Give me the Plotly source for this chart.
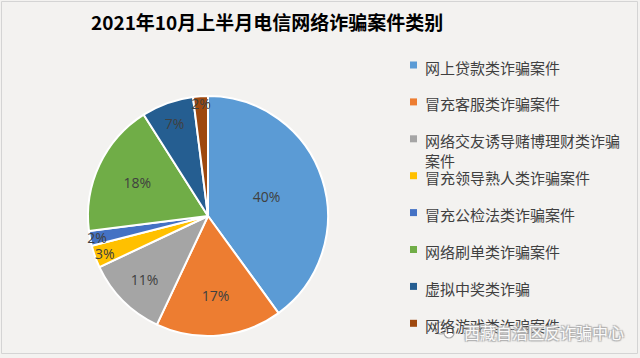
import plotly.graph_objects as go

# ---- data ----
categories = [
    "网上贷款类诈骗案件",
    "冒充客服类诈骗案件",
    "网络交友诱导赌博理财类诈骗案件",
    "冒充领导熟人类诈骗案件",
    "冒充公检法类诈骗案件",
    "网络刷单类诈骗案件",
    "虚拟中奖类诈骗",
    "网络游戏类诈骗案件",
]
legend_text = [
    "网上贷款类诈骗案件",
    "冒充客服类诈骗案件",
    "网络交友诱导赌博理财类诈骗<br>案件",
    "冒充领导熟人类诈骗案件",
    "冒充公检法类诈骗案件",
    "网络刷单类诈骗案件",
    "虚拟中奖类诈骗",
    "网络游戏类诈骗案件",
]
shares = [40, 17, 11, 3, 2, 18, 7, 2]
colors = ["#5B9BD5", "#ED7D31", "#A5A5A5", "#FFC000",
          "#4472C4", "#70AD47", "#255E91", "#9E480E"]
title_text = "2021年10月上半月电信网络诈骗案件类别"
watermark = "西藏自治区反诈骗中心"

W, H = 640, 358
CJK = "Noto Sans CJK SC"

fig = go.Figure()
fig.add_trace(go.Pie(
    labels=categories,
    values=shares,
    sort=False,
    direction="clockwise",
    rotation=0,
    marker=dict(colors=colors, line=dict(color="white", width=2)),
    texttemplate="%{value}%",
    textposition="inside",
    insidetextorientation="horizontal",
    textfont=dict(color="#404040", size=14, family="Open Sans"),
    showlegend=False,
    hoverinfo="label+percent",
    domain=dict(x=[88 / W, 328 / W], y=[(H - 216 - 120) / H, (H - 216 + 120) / H]),
))

shapes = []
annotations = []

# border
shapes.append(dict(type="rect", xref="paper", yref="paper",
                   x0=1.5 / W, x1=637.5 / W, y0=1 - 353.5 / H, y1=1 - 1.5 / H,
                   line=dict(color="#d4d4d4", width=1), fillcolor="rgba(0,0,0,0)",
                   layer="below"))

# manual legend
row0, step = 65, 36.9
for i, (txt, col) in enumerate(zip(legend_text, colors)):
    yc = row0 + i * step
    shapes.append(dict(type="rect", xref="paper", yref="paper",
                       x0=410 / W, x1=417 / W, y0=1 - (yc + 3.5) / H, y1=1 - (yc - 3.5) / H,
                       line=dict(width=0), fillcolor=col))
    annotations.append(dict(
        xref="paper", yref="paper", x=423 / W, y=1 - (yc - 10.5) / H,
        xanchor="left", yanchor="top", align="left", showarrow=False,
        text=txt, font=dict(family=CJK, size=15, color="#404040"),
    ))

# title
annotations.append(dict(
    xref="paper", yref="paper", x=267 / W, y=1 - 22 / H,
    xanchor="center", yanchor="middle", showarrow=False,
    text="<b>" + title_text + "</b>",
    font=dict(family=CJK, size=19, color="#000000"),
))

# watermark
annotations.append(dict(
    xref="paper", yref="paper", x=462 / W, y=1 - 332 / H,
    xanchor="left", yanchor="middle", showarrow=False,
    text=watermark,
    font=dict(family=CJK, size=16, color="rgba(255,255,255,0.95)",
              shadow="1px 1px 1px #b0b0b0, -1px -1px 1px #b0b0b0, 1px -1px 1px #b0b0b0, -1px 1px 1px #b0b0b0"),
))
for cx, cy, r in [(441, 328, 6), (449, 333, 5)]:
    shapes.append(dict(type="circle", xref="paper", yref="paper",
                       x0=(cx - r) / W, x1=(cx + r) / W, y0=1 - (cy + r) / H, y1=1 - (cy - r) / H,
                       line=dict(color="#a8a8a8", width=1.2), fillcolor="rgba(255,255,255,0.85)"))

fig.update_layout(
    width=W, height=H,
    margin=dict(l=0, r=0, t=0, b=0),
    paper_bgcolor="#f3f2f0",
    plot_bgcolor="#f3f2f0",
    shapes=shapes,
    annotations=annotations,
    uniformtext=dict(minsize=14, mode="show"),
)

fig.write_html("out.html")
